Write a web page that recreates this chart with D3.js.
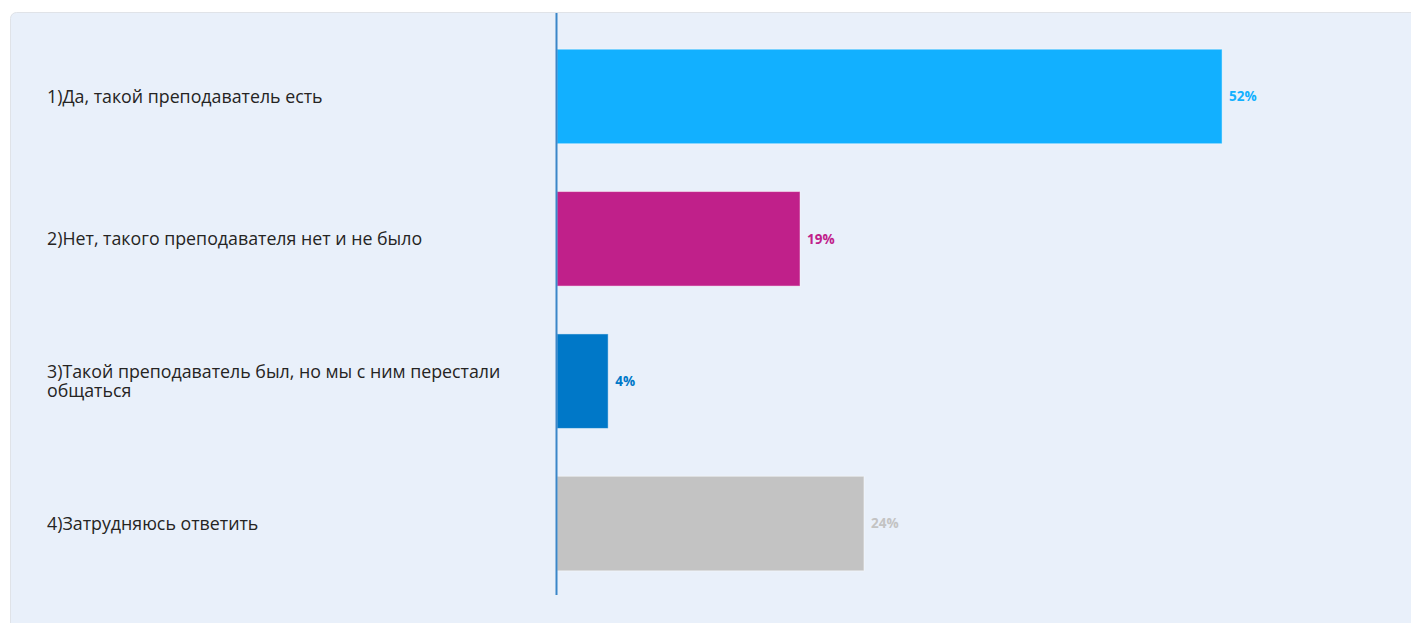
<!DOCTYPE html>
<html>
<head>
<meta charset="utf-8">
<script src="https://cdn.jsdelivr.net/npm/d3@7"></script>
<style>
  body { margin: 0; background: #ffffff; }
</style>
</head>
<body>
<div id="chart"></div>
<script>
// Data
const categories = [
  "1)Да, такой преподаватель есть",
  "2)Нет, такого преподавателя нет и не было",
  "3)Такой преподаватель был, но мы с ним перестали общаться",
  "4)Затрудняюсь ответить"
];
const values = [52, 19, 4, 24];
const barColors = ["#12b0ff", "#c0208a", "#0078c8", "#c3c3c3"];

const W = 1411, H = 623;

const svg = d3.select("#chart")
  .append("svg")
  .attr("width", W)
  .attr("height", H);

// Panel background
svg.append("rect")
  .attr("x", 10.5).attr("y", 12.5)
  .attr("width", W + 20).attr("height", H + 20)
  .attr("rx", 6)
  .attr("fill", "#e9f0fa")
  .attr("stroke", "#e0e3e8");

// Scales
const y = d3.scaleBand()
  .domain(categories)
  .range([25, 595])
  .paddingInner(0.336)
  .paddingOuter(0.17);

const x = d3.scaleLinear()
  .domain([0, 100])
  .range([557, 557 + 1279]);

// Bars
svg.append("g")
  .selectAll("rect")
  .data(categories)
  .join("rect")
  .attr("x", x(0))
  .attr("y", d => y(d))
  .attr("width", (d, i) => x(values[i]) - x(0))
  .attr("height", y.bandwidth())
  .attr("fill", (d, i) => barColors[i])
  .attr("stroke", "rgba(255,255,255,0.45)")
  .attr("stroke-width", 1);

// Value labels
svg.append("g")
  .selectAll("text")
  .data(categories)
  .join("text")
  .attr("x", (d, i) => x(values[i]) + 7)
  .attr("y", d => y(d) + y.bandwidth() / 2)
  .attr("dy", "0.35em")
  .attr("fill", (d, i) => barColors[i])
  .style("font-family", "'Open Sans', 'Noto Sans', sans-serif")
  .style("font-size", "13.5px")
  .style("font-weight", "bold")
  .text((d, i) => values[i] + "%");

// Category labels (wrapped)
const yAxis = svg.append("g")
  .attr("transform", "translate(556,0)")
  .call(d3.axisLeft(y).tickSize(0).tickPadding(0));
yAxis.select(".domain").remove();

yAxis.selectAll(".tick text")
  .attr("x", 47 - 556)
  .attr("text-anchor", "start")
  .attr("fill", "#252423")
  .style("font-family", "'Open Sans', 'Noto Sans', sans-serif")
  .style("font-size", "17.8px")
  .each(function() { wrap(d3.select(this), 480); });

function wrap(text, width) {
  const words = text.text().split(/\s+/);
  const x0 = text.attr("x");
  text.text(null);
  let lines = [];
  let line = [];
  let tspan = text.append("tspan").attr("x", x0);
  words.forEach(w => {
    line.push(w);
    tspan.text(line.join(" "));
    if (tspan.node().getComputedTextLength() > width && line.length > 1) {
      line.pop();
      tspan.text(line.join(" "));
      lines.push(tspan);
      line = [w];
      tspan = text.append("tspan").attr("x", x0).text(w);
    }
  });
  lines.push(tspan);
  const lh = 19.5;
  const start = -(lines.length - 1) * lh / 2;
  lines.forEach((t, i) => t.attr("y", start + i * lh).attr("dy", "0.35em"));
}

// Vertical axis line
svg.append("line")
  .attr("x1", 556.5).attr("x2", 556.5)
  .attr("y1", 13).attr("y2", 595)
  .attr("stroke", "#3a86c8")
  .attr("stroke-width", 2);
</script>
</body>
</html>
